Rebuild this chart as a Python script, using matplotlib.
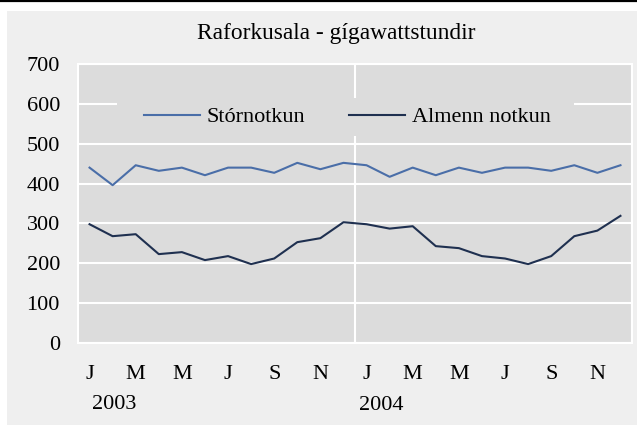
import matplotlib
matplotlib.use('Agg')
import matplotlib.pyplot as plt
from matplotlib.patches import Rectangle
from matplotlib.lines import Line2D

plt.rcParams['font.family'] = ['Liberation Serif', 'DejaVu Serif']

months = ['J', '', 'M', '', 'M', '', 'J', '', 'S', '', 'N', '',
          'J', '', 'M', '', 'M', '', 'J', '', 'S', '', 'N', '']
years = ['2003', '2004']
stornotkun = [440, 396, 446, 432, 440, 421, 440, 440, 427, 452, 436, 452,
              446, 417, 440, 421, 440, 427, 440, 440, 432, 446, 427, 446]
almenn = [298, 268, 273, 223, 228, 208, 218, 198, 212, 253, 263, 303,
          298, 287, 293, 243, 238, 218, 212, 198, 218, 268, 282, 319]

fig = plt.figure(figsize=(6.37, 4.25), dpi=100, facecolor='white')
# grey panel and top rule
fig.add_artist(Rectangle((7 / 637, 0), 1, 1 - 11 / 425, transform=fig.transFigure,
                         facecolor='#efefef', edgecolor='none', zorder=-10))
fig.add_artist(Line2D([0, 1], [1 - 0.8 / 425, 1 - 0.8 / 425], transform=fig.transFigure,
                      color='black', lw=1.6))

ax = fig.add_axes([78 / 637, 1 - 343 / 425, (632 - 78) / 637, (343 - 64) / 425])
ax.set_facecolor('#dcdcdc')
x = list(range(len(months)))
ax.plot(x, stornotkun, color='#4a6ea8', lw=1.5, label='Stórnotkun', zorder=3)
ax.plot(x, almenn, color='#1f3050', lw=1.5, label='Almenn notkun', zorder=3)
ax.set_xlim(-0.5, len(months) - 0.5)
ax.set_ylim(0, 700)
ax.set_yticks(range(0, 701, 100))
ax.grid(axis='y', color='white', lw=1.5)
ax.axvline(11.5, color='white', lw=1.5, zorder=1)
ax.set_axisbelow(True)
for s in ax.spines.values():
    s.set_color('white')
    s.set_linewidth(1.5)
ax.set_xticks(x)
ax.set_xticklabels(months)
ax.tick_params(axis='both', length=0, labelsize=16)
ax.tick_params(axis='x', pad=16)
ax.tick_params(axis='y', pad=13)
ax.text(1.05, -0.22, years[0], transform=ax.get_xaxis_transform(), ha='center', va='center', fontsize=16)
ax.text(12.65, -0.225, years[1], transform=ax.get_xaxis_transform(), ha='center', va='center', fontsize=16)

# legend backing box hides the grid behind it
ax.add_patch(Rectangle((0.0704, 0.742), 0.825, 0.136, transform=ax.transAxes,
                       facecolor='#dcdcdc', edgecolor='none', zorder=2))
leg = ax.legend(loc='center', bbox_to_anchor=(0.486, 0.81), ncol=2, fontsize=16,
                frameon=False, handlelength=2.5, handletextpad=0.3, columnspacing=2.0)

fig.text(336 / 637, 1 - 33 / 425, 'Raforkusala - gígawattstundir', ha='center', va='center', fontsize=16.8)

fig.savefig('out.png', dpi=100)
